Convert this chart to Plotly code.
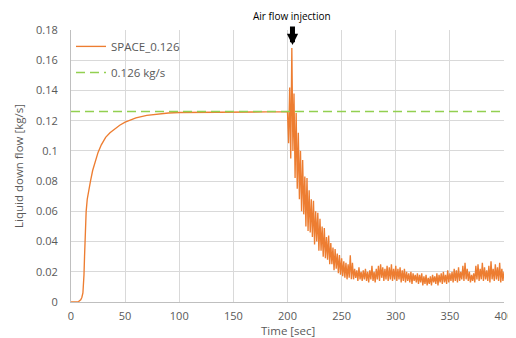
import plotly.graph_objects as go

# ---- data ----
t_start = [0, 5, 7, 9, 10, 11, 11.5, 12, 12.5, 13, 13.5, 14, 15, 16, 17, 18, 20, 22, 25, 28, 32, 36, 40, 45, 50, 55, 60, 70, 80, 90, 100, 120, 150, 180, 200]
v_start = [0, 0, 0.0003, 0.0015, 0.003, 0.006, 0.010, 0.018, 0.030, 0.042, 0.052, 0.060, 0.068, 0.073, 0.077, 0.080, 0.087, 0.092, 0.099, 0.104, 0.109, 0.112, 0.1145, 0.117, 0.119, 0.1205, 0.1218, 0.1235, 0.1245, 0.1251, 0.1254, 0.1256, 0.1257, 0.1258, 0.1258]

t_noise = list(range(201, 401))
v_noise = [
    0.105, 0.142, 0.095, 0.168, 0.100, 0.138, 0.082, 0.125, 0.075, 0.112,
    0.068, 0.100, 0.060, 0.094, 0.058, 0.083, 0.050, 0.082, 0.047, 0.074,
    0.046, 0.068, 0.043, 0.067, 0.038, 0.060, 0.040, 0.059, 0.034, 0.055,
    0.034, 0.050, 0.030, 0.049, 0.029, 0.043, 0.028, 0.044, 0.025, 0.039,
    0.025, 0.036, 0.021, 0.035, 0.022, 0.032, 0.019, 0.031, 0.018, 0.029,
    0.017, 0.027, 0.016, 0.026, 0.015, 0.025, 0.016, 0.031, 0.015, 0.026,
    0.015, 0.022, 0.016, 0.021, 0.014, 0.023, 0.015, 0.020, 0.014, 0.021,
    0.015, 0.022, 0.014, 0.020, 0.013, 0.021, 0.015, 0.024, 0.014, 0.020,
    0.013, 0.022, 0.015, 0.024, 0.014, 0.025, 0.016, 0.023, 0.014, 0.022,
    0.015, 0.024, 0.014, 0.023, 0.015, 0.025, 0.014, 0.022, 0.015, 0.024,
    0.014, 0.022, 0.015, 0.023, 0.013, 0.021, 0.014, 0.022, 0.013, 0.020,
    0.014, 0.019, 0.013, 0.020, 0.012, 0.019, 0.014, 0.018, 0.013, 0.019,
    0.012, 0.018, 0.013, 0.019, 0.011, 0.017, 0.012, 0.018, 0.011, 0.016,
    0.012, 0.017, 0.011, 0.018, 0.013, 0.017, 0.012, 0.019, 0.011, 0.018,
    0.013, 0.019, 0.012, 0.020, 0.013, 0.018, 0.012, 0.021, 0.013, 0.019,
    0.014, 0.020, 0.013, 0.022, 0.014, 0.021, 0.013, 0.023, 0.014, 0.020,
    0.015, 0.024, 0.014, 0.026, 0.015, 0.022, 0.014, 0.020, 0.013, 0.018,
    0.014, 0.019, 0.013, 0.024, 0.015, 0.025, 0.014, 0.022, 0.015, 0.026,
    0.014, 0.023, 0.015, 0.021, 0.014, 0.024, 0.013, 0.027, 0.015, 0.022,
    0.014, 0.025, 0.015, 0.023, 0.014, 0.026, 0.013, 0.022, 0.014, 0.020,
]

ref_x = [0, 400]
ref_y = [0.126, 0.126]

x_ticks = [0, 50, 100, 150, 200, 250, 300, 350, 400]
y_ticks = [0, 0.02, 0.04, 0.06, 0.08, 0.1, 0.12, 0.14, 0.16, 0.18]
y_ticklabels = ["0", "0.02", "0.04", "0.06", "0.08", "0.1", "0.12", "0.14", "0.16", "0.18"]

injection_t = 204.6
injection_v = 0.170

ORANGE = "#ED7D31"
GREEN = "#92D050"
GRID = "#D9D9D9"
TXT = "#595959"
FONT = "Open Sans"

fig = go.Figure()
fig.add_trace(go.Scatter(
    x=t_start + t_noise, y=v_start + v_noise, mode="lines",
    name="SPACE_0.126", legendgroup="a",
    line=dict(color=ORANGE, width=1.35),
))
fig.add_trace(go.Scatter(
    x=ref_x, y=ref_y, mode="lines",
    name="0.126 kg/s", legendgroup="b",
    line=dict(color=GREEN, width=1.5, dash="9px,5px"),
))

# the page body has an 8px margin, so the figure is 8px smaller than the window
fig.update_layout(
    width=508, height=330,
    margin=dict(l=63, r=12, t=22, b=36, autoexpand=False),
    paper_bgcolor="white", plot_bgcolor="white",
    font=dict(family=FONT, size=11, color=TXT),
    showlegend=True,
    legend=dict(
        x=0.0, y=0.993, xanchor="left", yanchor="top",
        bgcolor="rgba(0,0,0,0)", font=dict(size=11.5, color=TXT),
        traceorder="grouped", tracegroupgap=7,
    ),
    xaxis=dict(
        range=[0, 400], tickvals=x_ticks, automargin=False,
        showgrid=True, gridcolor=GRID, gridwidth=1,
        showline=True, linecolor="#BFBFBF", linewidth=1,
        zeroline=False, ticks="", ticklabelstandoff=4,
    ),
    yaxis=dict(
        range=[0, 0.18], tickvals=y_ticks, ticktext=y_ticklabels, automargin=False,
        showgrid=True, gridcolor=GRID, gridwidth=1,
        showline=True, linecolor="#BFBFBF", linewidth=1,
        zeroline=False, ticks="", ticklabelstandoff=10,
        title=dict(text="Liquid down flow [kg/s]", standoff=10, font=dict(size=11.5, color=TXT)),
    ),
)

# x-axis title placed just below the tick labels
fig.add_annotation(
    x=0.5, y=0, xref="paper", yref="paper", yanchor="top", yshift=-19,
    text="Time [sec]", showarrow=False,
    font=dict(size=11.5, color=TXT, family=FONT),
)

fig.add_annotation(
    x=injection_t, y=injection_v, xref="x", yref="y",
    ax=0, ay=-20, axref="pixel", ayref="pixel",
    showarrow=True, arrowhead=2, arrowsize=0.45, arrowwidth=5, arrowcolor="black",
    text="",
)
fig.add_annotation(
    x=injection_t, y=1, xref="x", yref="paper", yanchor="bottom", yshift=5,
    text="Air flow injection", showarrow=False,
    font=dict(size=10, color="black", family=FONT),
)

fig.write_html("out.html")
